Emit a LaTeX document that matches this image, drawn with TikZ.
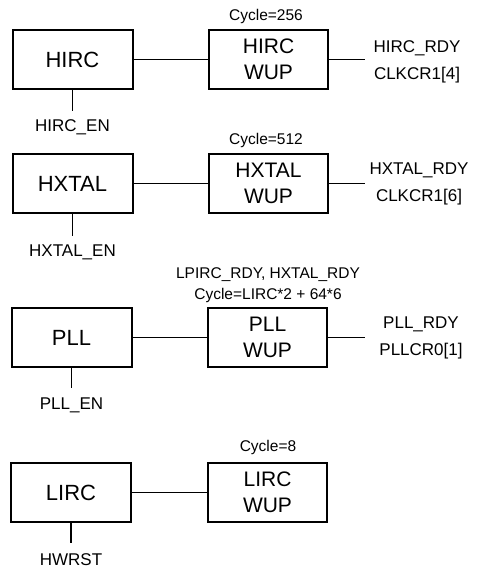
\documentclass[tikz,border=0pt]{standalone}
\usepackage{fontspec}
\setmainfont{Liberation Sans}
\begin{document}
\begin{tikzpicture}[x=1pt,y=-1pt,
  blk/.style={draw,line width=2pt,minimum width=120pt,minimum height=59pt,inner sep=0pt,font=\fontsize{22}{24}\selectfont,align=center},
  wblk/.style={draw,line width=2pt,minimum width=119pt,minimum height=59pt,inner sep=0pt,font=\fontsize{21}{26}\selectfont,align=center},
  lbl/.style={font=\fontsize{17}{27}\selectfont,align=center,inner sep=0pt},
  cyc/.style={font=\fontsize{15.5}{21}\selectfont,align=center,inner sep=0pt},
  wire/.style={line width=1.8pt}]
\useasboundingbox (0,0) rectangle (480,572);
% Row 1
\node[blk] (hirc) at (72.5,59.5) {HIRC};
\node[wblk] (hircw) at (268.5,59.5) {HIRC\\WUP};
\node[cyc] (hircc) at (266,16) {Cycle=256};
\coordinate (hirco) at (365,59.5);
\node[lbl] (hircr) at (417,62) {HIRC\_RDY\\CLKCR1[4]};
\coordinate (hirce) at (72.5,111);
\node[lbl] (hircen) at (72.5,127) {HIRC\_EN};
\draw[wire] (hirc) -- (hircw);
\draw[wire] (hircw) -- (hirco);
\draw[wire] (hirc) -- (hirce);
% Row 2
\node[blk] (hx) at (72.5,183.5) {HXTAL};
\node[wblk] (hxw) at (268.5,183.5) {HXTAL\\WUP};
\node[cyc] (hxc) at (266,140) {Cycle=512};
\coordinate (hxo) at (365,183.5);
\node[lbl] (hxr) at (419,184) {HXTAL\_RDY\\CLKCR1[6]};
\coordinate (hxe) at (72.5,236);
\node[lbl] (hxen) at (72.5,252) {HXTAL\_EN};
\draw[wire] (hx) -- (hxw);
\draw[wire] (hxw) -- (hxo);
\draw[wire] (hx) -- (hxe);
% Row 3
\node[blk] (pll) at (71.5,337.5) {PLL};
\node[wblk] (pllw) at (267.5,337.5) {PLL\\WUP};
\node[cyc] (pllc) at (268,285.5) {LPIRC\_RDY, HXTAL\_RDY\\Cycle=LIRC*2 + 64*6};
\coordinate (pllo) at (365,337.5);
\node[lbl] (pllr) at (421,338) {PLL\_RDY\\PLLCR0[1]};
\coordinate (plle) at (71.5,388);
\node[lbl] (pllen) at (71.5,405) {PLL\_EN};
\draw[wire] (pll) -- (pllw);
\draw[wire] (pllw) -- (pllo);
\draw[wire] (pll) -- (plle);
% Row 4
\node[blk] (lirc) at (71,492.5) {LIRC};
\node[wblk] (lircw) at (267.5,492.5) {LIRC\\WUP};
\node[cyc] (lircc) at (268,447) {Cycle=8};
\coordinate (lirce) at (71,543);
\node[lbl] (hwrst) at (71,560) {HWRST};
\draw[wire] (lirc) -- (lircw);
\draw[wire] (lirc) -- (lirce);
\end{tikzpicture}
\end{document}
